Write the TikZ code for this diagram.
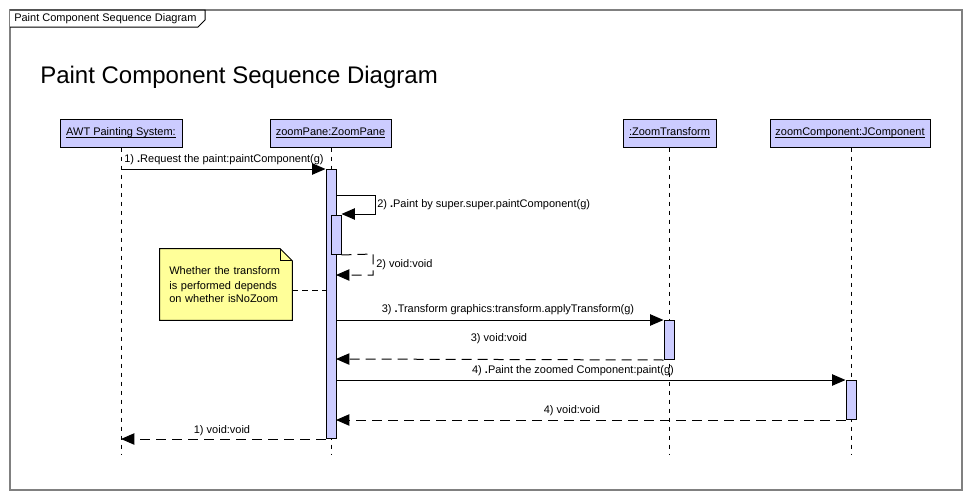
\documentclass[tikz,border=0pt]{standalone}
\usepackage{fontspec}
\setmainfont{Liberation Sans}
\usetikzlibrary{arrows.meta,backgrounds}
\definecolor{hdrfill}{RGB}{204,204,255}
\definecolor{notefill}{RGB}{255,255,153}
\definecolor{framegray}{RGB}{128,128,128}
\newcommand{\hul}[1]{\setbox0\hbox{#1}\rlap{\raisebox{-1.8pt}{\rule{\wd0}{0.75pt}}}\box0}
\begin{document}
\begin{tikzpicture}[x=0.75pt,y=-0.75pt,
  every node/.style={font=\fontsize{8.25pt}{10pt}\selectfont, inner sep=0pt},
  hdr/.style={draw=black, fill=hdrfill, minimum height=21pt, line width=0.75pt},
  lifeline/.style={draw=black, dash pattern=on 3pt off 3.75pt, line width=0.75pt},
  act/.style={draw=black, fill=hdrfill, minimum width=7.5pt, line width=0.75pt, anchor=north},
  msg/.style={draw=black, line width=0.75pt, -{Triangle[length=10pt,width=8.5pt]}},
  ret/.style={draw=black, line width=0.75pt, dash pattern=on 7.5pt off 4.5pt, -{Triangle[length=10pt,width=8.5pt]}},
  lbl/.style={anchor=center},
]
\useasboundingbox (0,0) rectangle (972,500);
% frame
\draw[framegray, line width=0.9pt] (10,10) rectangle (962,490);
\draw[black, line width=0.75pt, fill=white] (10,10) -- (205,10) -- (205,20) -- (198,27) -- (10,27);
\node[anchor=west] (tabtitle) at (14,19) {Paint Component Sequence Diagram};
\node[anchor=west, font=\fontsize{18pt}{22pt}\selectfont] (title) at (40,77) {Paint Component Sequence Diagram};

% headers
\node[hdr, minimum width=91.5pt] (awt) at (121,133) {\hul{AWT Painting System:}};
\node[hdr, minimum width=90.75pt] (zp) at (330.5,133) {\hul{zoomPane:ZoomPane}};
\node[hdr, minimum width=69.75pt] (zt) at (669.5,133) {\hul{:ZoomTransform}};
\node[hdr, minimum width=120pt] (zc) at (850,133) {\hul{zoomComponent:JComponent}};

% lifeline ends
\coordinate (awtEnd) at (121,455);
\coordinate (zpEnd) at (331,455);
\coordinate (ztEnd) at (669,455);
\coordinate (zcEnd) at (851,455);
\draw[lifeline] (awt.south -| awtEnd) -- (awtEnd);
\draw[lifeline] (zp.south -| zpEnd) -- (zpEnd);
\draw[lifeline] (zt.south -| ztEnd) -- (ztEnd);
\draw[lifeline] (zc.south -| zcEnd) -- (zcEnd);

% activations
\node[act, minimum height=201.75pt] (a1) at (331,169) {};
\node[act, minimum height=29.25pt] (a2) at (336,215) {};
\node[act, minimum height=29.25pt] (a3) at (669,320) {};
\node[act, minimum height=29.25pt] (a4) at (851,380) {};

% message 1
\coordinate (m1s) at (121,169);
\draw[msg] (m1s) -- (a1.north west);
\node[lbl] (l1) at (224,160) {1) \textbf{.}Request the paint:paintComponent(g)};

% self message 2
\coordinate (s2a) at (336,195);
\coordinate (s2b) at (375,195);
\coordinate (s2c) at (375,214);
\draw[msg] (s2a) -- (s2b) -- (s2c) -- (a2.north east |- s2c);
\node[anchor=west] (l2) at (377,205) {2) \textbf{.}Paint by super.super.paintComponent(g)};

% return 2
\coordinate (r2a) at (373,254);
\coordinate (r2b) at (373,275);
\coordinate (r2c) at (336,275);
\draw[ret] (a2.south east) -- (r2a) -- (r2b) -- (r2c);
\node[anchor=west] (l2r) at (376,265) {2) void:void};

% note
\node[align=left, minimum width=99pt, minimum height=53.25pt, text width=85pt] (note) at (226,284.5)
  {\fontsize{8.25pt}{11.25pt}\selectfont Whether the transform\\is performed depends\\on whether isNoZoom};
\begin{scope}[on background layer]
\draw[black, fill=notefill, line width=0.75pt]
  (note.south west) -- (note.north west) -- ([xshift=-9pt]note.north east)
  -- ([yshift=-9pt]note.north east) -- (note.south east) -- cycle;
\draw[black, line width=0.75pt] ([xshift=-9pt]note.north east) -- ([xshift=-9pt,yshift=-9pt]note.north east) -- ([yshift=-9pt]note.north east);
\end{scope}
\coordinate (nc) at (326,290);
\draw[lifeline, dash pattern=on 4.5pt off 3pt] (note.east |- nc) -- (nc);

% message 3
\coordinate (m3s) at (336,320);
\draw[msg] (m3s) -- (a3.north west);
\node[lbl] (l3) at (508,310) {3) \textbf{.}Transform graphics:transform.applyTransform(g)};
% return 3
\coordinate (r3e) at (336,359);
\draw[ret] (a3.south west) -- (r3e);
\node[lbl] (l3r) at (499,339) {3) void:void};

% message 4
\coordinate (m4s) at (336,380);
\draw[msg] (m4s) -- (a4.north west);
\node[lbl] (l4) at (573,371) {4) \textbf{.}Paint the zoomed Component:paint(g)};
% return 4
\coordinate (r4e) at (336,420);
\draw[ret] (a4.south west) -- (r4e);
\node[lbl] (l4r) at (572,411) {4) void:void};

% return 1
\coordinate (r1e) at (121,439);
\draw[ret] (a1.south west) -- (r1e);
\node[lbl] (l1r) at (222,431) {1) void:void};
\end{tikzpicture}
\end{document}
